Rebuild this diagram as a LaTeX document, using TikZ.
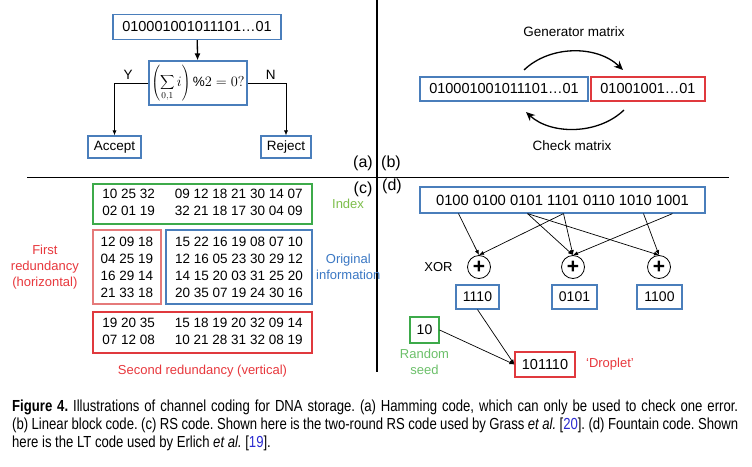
\documentclass[tikz,border=0pt]{standalone}
\usepackage{fontspec}
\setmainfont{Liberation Sans}
\newfontfamily\capfont[FakeStretch=0.82]{Liberation Sans}
\usetikzlibrary{positioning,arrows.meta}
\definecolor{boxblue}{HTML}{4A7EBB}
\definecolor{boxred}{HTML}{E0393E}
\definecolor{boxpink}{HTML}{E57A7A}
\definecolor{boxgreen}{HTML}{3DAA4A}
\definecolor{txtred}{HTML}{E8383D}
\definecolor{txtblue}{HTML}{3B78C4}
\definecolor{txtlime}{HTML}{7DBE4A}
\definecolor{txtgreen}{HTML}{6CC06A}
\definecolor{refblue}{HTML}{2B2BD0}
\frenchspacing
\begin{document}
\begin{tikzpicture}[x=1pt,y=-1pt,
  font=\fontsize{13.5}{17}\selectfont,
  box/.style={draw,line width=1.2pt,inner sep=0pt},
  bluebox/.style={box,draw=boxblue},
  redbox/.style={box,draw=boxred},
  pinkbox/.style={box,draw=boxpink},
  greenbox/.style={box,draw=boxgreen},
  xor/.style={draw,circle,line width=0.8pt,minimum size=23pt,inner sep=0pt,font=\fontsize{21}{21}\selectfont\bfseries},
  link/.style={line width=0.7pt,-{Latex[length=5pt,width=4pt]}},
  tag/.style={font=\fontsize{16}{16}\selectfont},
  note/.style={font=\fontsize{13}{16}\selectfont,align=center}]
\fill[white] (0,0) rectangle (752,466);
\useasboundingbox (0,0) rectangle (752,466);

\draw[line width=1.2pt] (377,0) -- (377,372);
\draw[line width=1.2pt] (27,177.5) -- (729,177.5);
\node[tag] (la) at (363,163) {(a)};
\node[tag] (lb) at (391,163) {(b)};
\node[tag] (lc) at (363,189) {(c)};
\node[tag] (ld) at (392,186) {(d)};

\node[bluebox,minimum width=168,minimum height=25,font=\fontsize{14.5}{17}\selectfont] (word) at (197,27) {010001001011101…01};
\node[bluebox,minimum width=98,minimum height=44] (parity) at (198,83) {$\displaystyle\left(\sum_{0,1} i\right)\%2=0?$};
\node[bluebox,minimum width=53,minimum height=22] (accept) at (114.5,147) {Accept};
\node[bluebox,minimum width=50,minimum height=22] (reject) at (286,147) {Reject};
\draw[line width=1.3pt,-{Latex[length=7pt,width=6pt]}] (word) -- (parity);
\draw[link] (parity.west) -| node[pos=0.3,above] {Y} (accept.north);
\draw[link] (parity.east) -| node[pos=0.3,above] {N} (reject.north);

\node[bluebox,minimum width=168,minimum height=24,font=\fontsize{14.5}{17}\selectfont] (msg) at (504,89) {010001001011101…01};
\node[redbox,minimum width=114,minimum height=24,font=\fontsize{14.5}{17}\selectfont] (code) at (648,89) {01001001…01};
\coordinate (g1) at (524,70);
\coordinate (g2) at (623,70);
\coordinate (c1) at (624,110);
\coordinate (c2) at (526,112);
\draw[line width=1.3pt,-{Stealth[length=9pt,width=8pt]}] (g1) .. controls (550,45) and (597,45) .. (g2);
\draw[line width=1.3pt,-{Stealth[length=9pt,width=8pt]}] (c1) .. controls (598,135) and (551,135) .. (c2);
\node (gen) at (574,32) {Generator matrix};
\node (chk) at (572,146) {Check matrix};

\node[greenbox,minimum width=219,minimum height=40] (index) at (202.5,204)
  {\begin{tabular}{@{}l@{\hspace{20pt}}l@{}}10 25 32 & 09 12 18 21 30 14 07\\02 01 19 & 32 21 18 17 30 04 09\end{tabular}};
\node[pinkbox,minimum width=68,minimum height=74,align=center] (first) at (127,267)
  {12 09 18\\04 25 19\\16 29 14\\21 33 18};
\node[bluebox,minimum width=146,minimum height=74,align=center] (orig) at (239,267)
  {15 22 16 19 08 07 10\\12 16 05 23 30 29 12\\14 15 20 03 31 25 20\\20 35 07 19 24 30 16};
\node[redbox,minimum width=219,minimum height=41] (second) at (202.5,332.5)
  {\begin{tabular}{@{}l@{\hspace{20pt}}l@{}}19 20 35 & 15 18 19 20 32 09 14\\07 12 08 & 10 21 28 31 32 08 19\end{tabular}};
\node[note,text=txtlime,right=16pt of index] (indexlbl) {Index};
\node[note,text=txtred,left=10pt of first] (firstlbl) {First\\redundancy\\(horizontal)};
\node[note,text=txtblue,right=0pt of orig] (origlbl) {Original\\information};
\node[note,text=txtred,below=8pt of second] (secondlbl) {Second redundancy (vertical)};

\node[bluebox,minimum width=285,minimum height=26,font=\fontsize{14.8}{17}\selectfont] (block) at (562.5,200) {0100 0100 0101 1101 0110 1010 1001};
\node[xor] (x1) at (479,267) {+};
\node[xor] (x2) at (573,267) {+};
\node[xor] (x3) at (659,267) {+};
\node[note,left=11pt of x1] (xorlbl) {XOR};
\coordinate (b1) at ([xshift=-104]block.south);
\coordinate (b3) at ([xshift=-35]block.south);
\coordinate (b4) at ([xshift=1]block.south);
\coordinate (b6) at ([xshift=81]block.south);
\coordinate (b7) at ([xshift=110]block.south);
\draw[link] (b1) -- (x1.north);
\draw[link] (b4) -- (x1.north);
\draw[link] (b3) -- (x2.north);
\draw[link] (b4) -- (x2.north);
\draw[link] (b7) -- (x2.north);
\draw[link] (b3) -- (x3.north);
\draw[link] (b6) -- (x3.north);
\node[bluebox,minimum width=43,minimum height=24,font=\fontsize{14}{17}\selectfont] (p1) at (477.5,297) {1110};
\node[bluebox,minimum width=45,minimum height=24,font=\fontsize{14}{17}\selectfont] (p2) at (574.5,297) {0101};
\node[bluebox,minimum width=45,minimum height=24,font=\fontsize{14}{17}\selectfont] (p3) at (659.5,297) {1100};
\node[greenbox,minimum width=29,minimum height=26,font=\fontsize{14}{17}\selectfont] (seed) at (424.5,330) {10};
\node[note,text=txtgreen,below=2pt of seed] (seedlbl) {Random\\seed};
\node[redbox,minimum width=60,minimum height=25,font=\fontsize{14.5}{17}\selectfont] (drop) at (545,364.5) {101110};
\node[note,text=txtred,right=7pt of drop] (droplbl) {`Droplet'};
\draw[link] (p1.south) -- (drop.west);
\draw[link] (seed.east) -- (drop.west);

\node[anchor=north west,inner sep=0pt,text width=726pt,align=justify,font=\capfont\fontsize{16}{18}\selectfont] (caption) at (12,400)
  {\textbf{Figure 4.} Illustrations of channel coding for DNA storage. (a) Hamming code, which can only be used to check one error.\linebreak
  (b) Linear block code. (c) RS code. Shown here is the two-round RS code used by Grass \textit{et al.} [\textcolor{refblue}{20}]. (d) Fountain code. Shown\linebreak
  here is the LT code used by Erlich \textit{et al.} [\textcolor{refblue}{19}].};
\end{tikzpicture}
\end{document}
